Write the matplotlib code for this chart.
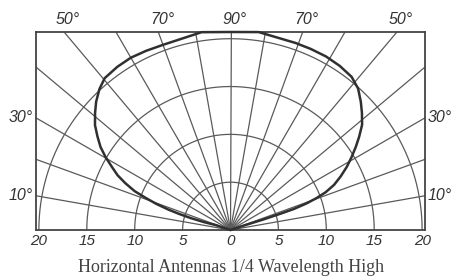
import numpy as np
import matplotlib
matplotlib.use("Agg")
import matplotlib.pyplot as plt

# pattern: elevation angle (deg from the right horizon) and field radius
angle_deg = [18.0, 18.4, 17.8, 18.1, 18.4, 19.3, 20.4, 21.7, 23.6, 26.0, 28.5, 31.2, 33.6, 36.0,
             38.7, 41.8, 44.6, 48.0, 51.7, 56.4, 61.2, 66.1, 70.8, 81.9, 90.0,
             98.3, 110.0, 115.2, 120.0, 124.7, 129.6, 132.9, 136.3, 139.1, 142.2, 144.8, 147.4,
             149.7, 152.0, 154.1, 156.0, 157.9, 159.2, 160.6, 161.8, 162.6, 163.3, 163.4, 161.6, 162.0]
radius = [0.0, 1.6, 3.6, 5.6, 7.0, 8.4, 9.6, 10.7, 11.8, 12.8, 13.8, 14.8, 15.7, 16.6,
          17.6, 18.4, 19.1, 19.9, 20.4, 20.6, 20.7, 20.7, 20.7, 20.9, 20.7,
          20.9, 20.6, 20.7, 20.8, 20.75, 20.6, 20.1, 19.4, 18.7, 17.9, 17.0, 16.1,
          15.1, 14.0, 13.1, 12.0, 10.8, 9.5, 8.2, 6.8, 5.6, 4.3, 2.9, 1.6, 0.0]

grid_radii = [5, 10, 15, 20]
spoke_angles = list(range(10, 180, 10))
dist_ticks = [-20, -15, -10, -5, 0, 5, 10, 15, 20]
top_labels = [50, 70, 90, 110, 130]     # shown as 50 70 90 70 50
side_labels = [30, 10]
caption = "Horizontal Antennas 1/4 Wavelength High"

XMAX = 20.3
YMAX = 20.7
grid_col = "#5a5a5a"
lab_font = ["Liberation Sans Narrow", "Liberation Sans", "DejaVu Sans"]

fig = plt.figure(figsize=(4.51, 2.77), dpi=100)
ax = fig.add_axes([36 / 451, 47 / 277, 389 / 451, 198 / 277])
ax.set_xlim(-XMAX, XMAX)
ax.set_ylim(0, YMAX)

# arcs
t = np.radians(np.linspace(0, 180, 361))
for r in grid_radii:
    ax.plot(r * np.cos(t), r * np.sin(t), color=grid_col, lw=0.9)

# spokes
for a in spoke_angles:
    ar = np.radians(a)
    ax.plot([0, 40 * np.cos(ar)], [0, 40 * np.sin(ar)], color=grid_col, lw=0.9)

# radiation pattern (drawn over the frame where it runs along the top)
th = np.radians(angle_deg)
rr = np.array(radius)
ax.plot(rr * np.cos(th), np.minimum(rr * np.sin(th), YMAX), color="#303030", lw=1.8,
        solid_joinstyle="round", solid_capstyle="round", clip_on=False, zorder=3)

for s in ax.spines.values():
    s.set_color("#444444")
    s.set_linewidth(1.3)

ax.set_yticks([])
ax.set_xticks(dist_ticks)
ax.set_xticklabels([str(abs(v)) for v in dist_ticks], fontstyle="italic",
                   family=lab_font, fontsize=11, color="#333333")
ax.tick_params(axis="x", length=0, pad=3)

# angle labels along the top edge
for a in top_labels:
    x = YMAX / np.tan(np.radians(a))
    shown = a if a <= 90 else 180 - a
    ax.text(x + 0.4, YMAX + 0.5, f"{shown}°", ha="center", va="bottom", fontstyle="italic",
            family=lab_font, fontsize=11.5, color="#333333")

# angle labels along the sides
for a in side_labels:
    y = XMAX * np.tan(np.radians(a))
    ax.text(-XMAX - 0.3, y, f"{a}°", ha="right", va="center", fontstyle="italic",
            family=lab_font, fontsize=11.5, color="#333333", clip_on=False)
    ax.text(XMAX + 0.3, y, f"{a}°", ha="left", va="center", fontstyle="italic",
            family=lab_font, fontsize=11.5, color="#333333", clip_on=False)

fig.text(231 / 451, 1 - 267 / 277, caption, ha="center", va="center",
         family=["Liberation Serif", "DejaVu Serif"], fontsize=13, color="#444444")

fig.savefig("out.png", dpi=100)
